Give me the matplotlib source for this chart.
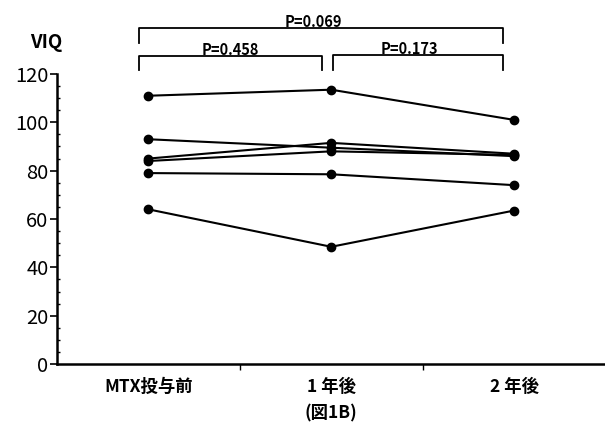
import matplotlib
matplotlib.use('Agg')
import matplotlib.pyplot as plt
from matplotlib.ticker import MultipleLocator

plt.rcParams['font.family'] = ['Noto Sans CJK JP', 'DejaVu Sans']

# データ (VIQ)
categories = ['MTX投与前', '1 年後', '2 年後']
patients = [
    [111, 113.5, 101],
    [93, 89.5, 86],
    [85, 91.5, 87],
    [84, 88, 86.5],
    [79, 78.5, 74],
    [64, 48.5, 63.5],
]
p_labels = ['P=0.069', 'P=0.458', 'P=0.173']

fig = plt.figure(figsize=(6.05, 4.24), dpi=100)
ax = fig.add_axes([0.094, 0.1415, 0.907, 0.684])

x = list(range(len(categories)))
for vals in patients:
    ax.plot(x, vals, color='black', lw=1.5, marker='o', ms=6, clip_on=False)

ax.set_xlim(-0.5, 2.5)
ax.set_ylim(0, 120)
ax.spines['top'].set_visible(False)
ax.spines['right'].set_visible(False)
ax.spines['left'].set_linewidth(1.8)
ax.spines['bottom'].set_linewidth(1.8)

ax.set_xticks(x)
ax.set_xticklabels(categories, fontsize=12.5, fontweight='bold')
ax.tick_params(axis='x', which='major', length=0, pad=10)
ax.set_xticks([0.5, 1.5], minor=True)
ax.tick_params(axis='x', which='minor', length=4, width=1, direction='out')

ax.yaxis.set_major_locator(MultipleLocator(20))
ax.yaxis.set_minor_locator(MultipleLocator(5))
ax.tick_params(axis='y', which='major', length=5, width=1.2, labelsize=14.5, pad=1)
ax.tick_params(axis='y', which='minor', length=2.5, width=1, direction='in')

ax.set_xlabel('(図1B)', fontsize=12.5, fontweight='bold', labelpad=6)
ax.text(-0.56, 133, 'VIQ', fontsize=13.5, fontweight='bold', ha='center', va='center')

# 検定の括弧
def bracket(x0, x1, ytop, ybot, label, tx):
    ax.plot([x0, x0, x1, x1], [ybot, ytop, ytop, ybot], color='black', lw=1.3, clip_on=False)
    ax.text(tx, ytop - 0.8, label, fontsize=10.5, fontweight='bold', ha='center', va='bottom')

bracket(-0.05, 1.94, 139, 133, p_labels[0], 0.90)
bracket(-0.05, 0.95, 127.5, 121.5, p_labels[1], 0.45)
bracket(1.01, 1.94, 127.8, 121.8, p_labels[2], 1.43)

fig.savefig('out.png', dpi=100)
